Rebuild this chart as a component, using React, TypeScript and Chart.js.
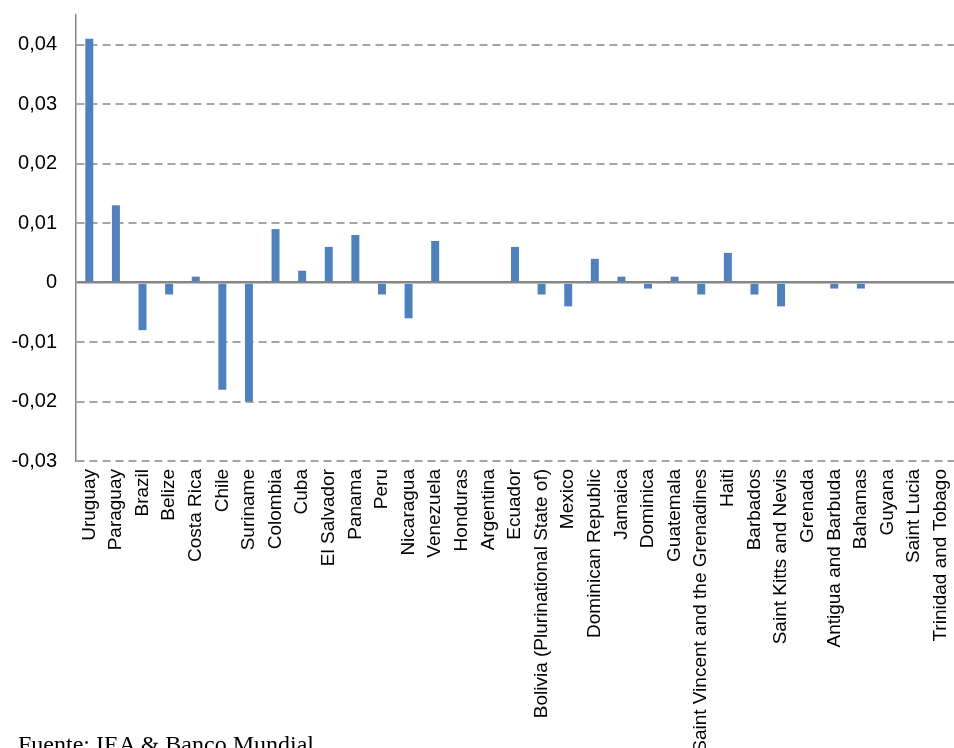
import React, { useEffect, useRef } from "react";
import { Chart, registerables } from "chart.js";

Chart.register(...registerables);

const countries = [
  "Uruguay", "Paraguay", "Brazil", "Belize", "Costa Rica", "Chile", "Suriname",
  "Colombia", "Cuba", "El Salvador", "Panama", "Peru", "Nicaragua", "Venezuela",
  "Honduras", "Argentina", "Ecuador", "Bolivia (Plurinational State of)", "Mexico",
  "Dominican Republic", "Jamaica", "Dominica", "Guatemala",
  "Saint Vincent and the Grenadines", "Haiti", "Barbados", "Saint Kitts and Nevis",
  "Grenada", "Antigua and Barbuda", "Bahamas", "Guyana", "Saint Lucia",
  "Trinidad and Tobago",
];

const values = [
  0.041, 0.013, -0.008, -0.002, 0.001, -0.018, -0.02,
  0.009, 0.002, 0.006, 0.008, -0.002, -0.006, 0.007,
  0, 0, 0.006, -0.002, -0.004,
  0.004, 0.001, -0.001, 0.001,
  -0.002, 0.005, -0.002, -0.004,
  0, -0.001, -0.001, 0, 0,
  0,
];

const yMin = -0.03;
const yMax = 0.045;
const yStep = 0.01;

const sourceText = "Fuente: IEA & Banco Mundial";

function formatTick(v: number): string {
  if (Math.abs(v) < 1e-9) return "0";
  return v.toFixed(2).replace(".", ",");
}

export default function App() {
  const canvasRef = useRef<HTMLCanvasElement | null>(null);

  useEffect(() => {
    if (!canvasRef.current) return;
    const chart = new Chart(canvasRef.current, {
      type: "bar",
      data: {
        labels: countries,
        datasets: [
          {
            data: values,
            backgroundColor: "#4F81BD",
            borderColor: "#4F81BD",
            borderWidth: 0,
            barPercentage: 0.3,
            categoryPercentage: 1,
          },
        ],
      },
      options: {
        animation: false,
        responsive: false,
        maintainAspectRatio: false,
        layout: { padding: { top: 15, left: 0, right: 0, bottom: 0 } },
        plugins: {
          legend: { display: false },
          tooltip: { enabled: false },
        },
        scales: {
          x: {
            grid: { display: false },
            border: { display: false },
            ticks: {
              autoSkip: false,
              maxRotation: 90,
              minRotation: 90,
              padding: 0,
              color: "#000000",
              font: { family: "'Liberation Sans', Arial, sans-serif", size: 19 },
            },
            afterFit: (scale: any) => {
              scale.height = 287;
              scale.paddingLeft = 0;
              scale.paddingRight = 0;
            },
          },
          y: {
            min: yMin,
            max: yMax,
            ticks: {
              stepSize: yStep,
              padding: 19,
              color: "#000000",
              font: { family: "'Liberation Sans', Arial, sans-serif", size: 20 },
              callback: (v: any) => formatTick(Number(v)),
            },
            afterBuildTicks: (scale: any) => {
              scale.ticks = scale.ticks.filter(
                (t: any) => Math.abs(t.value * 100 - Math.round(t.value * 100)) < 1e-6
              );
            },
            afterFit: (scale: any) => {
              scale.width = 76;
              scale.paddingTop = 0;
              scale.paddingBottom = 0;
            },
            grid: {
              drawTicks: false,
              color: (ctx: any) =>
                ctx.tick && Math.abs(ctx.tick.value) < 1e-9 ? "#868686" : "#A6A6A6",
              lineWidth: (ctx: any) =>
                ctx.tick && Math.abs(ctx.tick.value) < 1e-9 ? 2.5 : 2,
            },
            border: {
              display: true,
              color: "#868686",
              width: 1.5,
              dash: (ctx: any) =>
                ctx.tick && Math.abs(ctx.tick.value) > 1e-9 ? [8, 5] : [],
            },
          },
        },
      } as any,
    });
    return () => chart.destroy();
  }, []);

  return (
    <div
      style={{
        position: "fixed",
        left: 0,
        top: 0,
        width: 954,
        height: 748,
        overflow: "hidden",
        background: "#ffffff",
      }}
    >
      <canvas
        ref={canvasRef}
        width={954}
        height={748}
        style={{ position: "absolute", left: 0, top: 0, width: 954, height: 748 }}
      />
      <div
        style={{
          position: "absolute",
          left: 18,
          top: 732,
          fontFamily: "'Liberation Serif', 'Times New Roman', serif",
          fontSize: 24,
          lineHeight: "24px",
          color: "#000000",
          whiteSpace: "nowrap",
        }}
      >
        {sourceText}
      </div>
    </div>
  );
}
